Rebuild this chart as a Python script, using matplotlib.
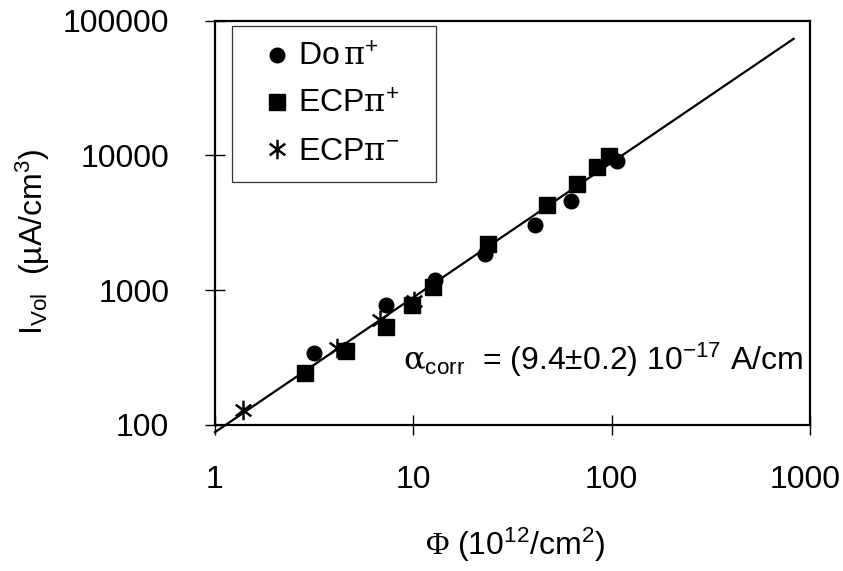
import matplotlib
matplotlib.use("Agg")
import matplotlib.pyplot as plt
import matplotlib.transforms as mtransforms
from matplotlib.path import Path
from matplotlib.patches import Rectangle

plt.rcParams['font.family'] = ['Liberation Sans', 'DejaVu Sans']
plt.rcParams['mathtext.fontset'] = 'custom'
plt.rcParams['mathtext.rm'] = 'Liberation Sans'
plt.rcParams['mathtext.it'] = 'Liberation Sans:italic'
plt.rcParams['mathtext.sf'] = 'Liberation Serif'
plt.rcParams['mathtext.bf'] = 'DejaVu Serif'

# Data
do_pip_phi = [3.14, 7.24, 12.9, 23.1, 41.3, 62.1, 106]
do_pip_i = [342, 776, 1191, 1858, 3048, 4594, 9080]

ecp_pip_phi = [2.83, 4.60, 7.24, 9.79, 12.5, 23.7, 47.0, 66.5, 83.9, 96.5]
ecp_pip_i = [243, 354, 533, 776, 1056, 2203, 4285, 6140, 8200, 9900]

ecp_pim_phi = [1.38, 4.10, 6.76, 10.1]
ecp_pim_i = [129, 372, 601, 832]

fit_phi = [1.0, 827]
fit_slope = 88.5  # uA/cm^3 per 1e12/cm^2

x_ticks = [1, 10, 100, 1000]
x_tick_labels = ['1', '10', '100', '1000']
y_ticks = [100, 1000, 10000, 100000]
y_tick_labels = ['100', '1000', '10000', '100000']

W, H = 843, 571
fig = plt.figure(figsize=(W/100, H/100), dpi=100)
ax = fig.add_axes([215/W, 1-425/H, (810-215)/W, (425-20.5)/H])

ax.set_xscale('log')
ax.set_yscale('log')
ax.set_xlim(1, 1000)
ax.set_ylim(100, 100000)

fit_i = [fit_slope * p for p in fit_phi]
ax.plot(fit_phi, fit_i, color='black', lw=1.6, clip_on=False, zorder=2)

star = Path([(0, -1), (0, 1), (-0.8, -0.6), (0.8, 0.6), (-0.8, 0.6), (0.8, -0.6)],
            [Path.MOVETO, Path.LINETO, Path.MOVETO, Path.LINETO, Path.MOVETO, Path.LINETO])

ax.plot(do_pip_phi, do_pip_i, 'o', color='black', ms=10.5, ls='none',
        label=r'Do$\,\mathbf{\pi}^{+}$', zorder=3)
ax.plot(ecp_pip_phi, ecp_pip_i, 's', color='black', ms=11, ls='none',
        label=r'ECP$\mathbf{\pi}^{+}$', zorder=3)
ax.plot(ecp_pim_phi, ecp_pim_i, marker=star, color='black', ms=14, mew=1.8,
        ls='none', label=r'ECP$\mathbf{\pi}^{-}$', zorder=3)

ax.set_xticks(x_ticks, labels=x_tick_labels)
ax.set_yticks(y_ticks, labels=y_tick_labels)
ax.minorticks_off()
ax.tick_params(axis='both', which='major', direction='inout', length=14, width=1.0,
               labelsize=23, color='black')
ax.tick_params(axis='x', pad=22)
ax.tick_params(axis='y', pad=26)
for s in ax.spines.values():
    s.set_linewidth(1.6)

ax.set_xlabel(r'$\mathsf{\Phi}$ (10$^{12}$/cm$^{2}$)', fontsize=23, va='center')
ax.xaxis.set_label_coords((515-215)/595, (425-545)/404.5)
ax.set_ylabel('I$_{\\mathrm{Vol}}$  (µA/cm$^{3}$)', fontsize=23, va='center')
ax.yaxis.set_label_coords((33-215)/595, (425-242)/404.5)

ax.text((403-215)/595, (425-360)/404.5,
        r'$\mathbf{\alpha}_{\mathrm{corr}}$  = (9.4$\pm$0.2) 10$^{-17}$ A/cm',
        transform=ax.transAxes, fontsize=23, ha='left', va='center')

# Legend frame
ax.add_patch(Rectangle(((232-215)/595, (425-182)/404.5), (436-232)/595, (182-26)/404.5,
                       transform=ax.transAxes, fill=False, edgecolor='#333333',
                       lw=0.9, zorder=4))
leg = ax.legend(loc='upper left', bbox_to_anchor=((259-215)/595, (425-43)/404.5),
                borderaxespad=0, fontsize=23, frameon=False,
                handlelength=1.1, handletextpad=0.12, borderpad=0, labelspacing=0.53,
                numpoints=1)

fig.canvas.draw()
# place y label so its extent is centred at (33, 242) px from top-left
r = fig.canvas.get_renderer()
bb = ax.yaxis.label.get_window_extent(r)
cx, cy = (bb.x0 + bb.x1) / 2, (bb.y0 + bb.y1) / 2
dx, dy = 33 - cx, (H - 242) - cy
ax.yaxis.set_label_coords((33 - 215 + dx) / 595 + 0, (425 - 242) / 404.5 + dy / 404.5)
ax.yaxis.set_label_coords((33 + dx - 215) / 595, (425 - 242 + dy) / 404.5)

lab = ax.get_xticklabels()[-1]
lab.set_transform(lab.get_transform() + mtransforms.ScaledTranslation(-5/100, 0, fig.dpi_scale_trans))

fig.savefig('out.png', dpi=100, facecolor='white')
